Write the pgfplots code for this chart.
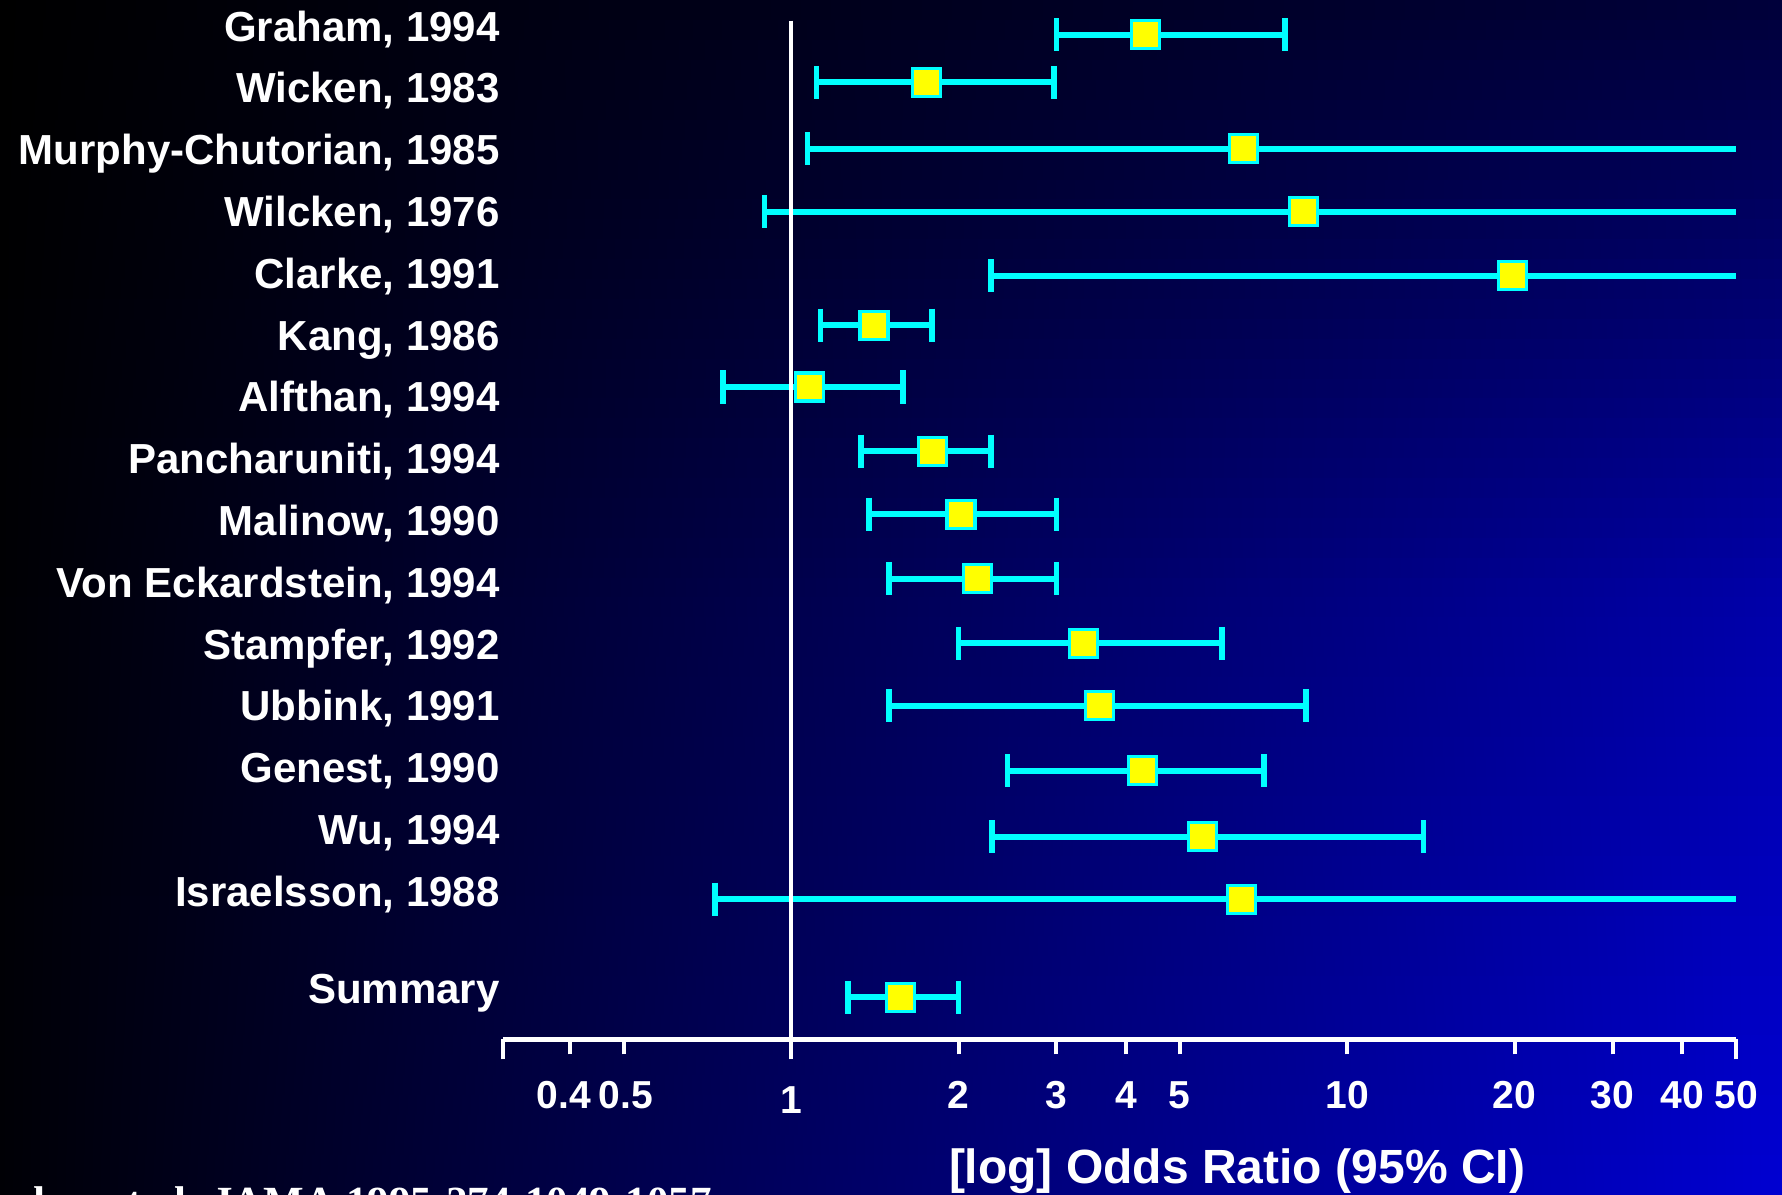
\documentclass[border=0pt]{standalone}
\usepackage{fontspec}
\setmainfont{Liberation Sans}
\newfontfamily\citefont{Liberation Serif}
\usepackage{pgfplots}
\pgfplotsset{compat=1.18}
\usepackage{pgfplotstable}
\definecolor{ciCyan}{RGB}{0,255,255}
\definecolor{ptYellow}{RGB}{255,255,0}

% y = row position (0 = first study, downwards negative); or = odds ratio; lo/hi = 95% CI
% cap = 1 when the upper limit lies inside the axis (closed end), 0 when it runs beyond 50
\pgfplotstableread{
id  y       or     lo     hi    cap
0   -0.14   4.34   3.00   7.73  1
1   -0.91   1.75   1.11   2.97  1
2   -1.98   6.50   1.07   50    0
3   -3.00   8.34   0.896  50    0
4   -4.04   19.8   2.29   50    0
5   -4.84   1.41   1.13   1.79  1
6   -5.84   1.08   0.754  1.59  1
7   -6.88   1.795  1.335  2.29  1
8   -7.90   2.02   1.38   3.00  1
9   -8.94   2.16   1.50   3.00  1
10  -9.99   3.35   2.00   5.95  1
11  -11.00  3.59   1.50   8.43  1
12  -12.05  4.28   2.45   7.09  1
13  -13.12  5.50   2.30   13.7  1
14  -14.13  6.45   0.730  50    0
15  -15.72  1.575  1.266  2.00  1
}\studies

\begin{document}
\begin{tikzpicture}
\useasboundingbox (0,0) rectangle (891pt,597pt);
% background: dark (top left) to bright blue (bottom right)
\foreach \i in {0,...,59}{
  \pgfmathsetmacro{\tt}{(\i+0.5)/60}
  \pgfmathtruncatemacro{\cL}{\tt<0.5 ? 6-4*\tt : 4-8*(\tt-0.5)}
  \pgfmathtruncatemacro{\cM}{\tt<0.5 ? 150-80*\tt : 110-144*(\tt-0.5)}
  \pgfmathtruncatemacro{\cR}{\tt<0.5 ? 210-80*\tt : 170-224*(\tt-0.5)}
  \definecolor{bgL}{RGB}{0,0,\cL}
  \definecolor{bgM}{RGB}{0,0,\cM}
  \definecolor{bgR}{RGB}{0,0,\cR}
  \shade[left color=bgL, middle color=bgM, right color=bgR]
    (0pt,{\i*9.95pt}) rectangle (891pt,{\i*9.95pt+10.3pt});
}
\begin{axis}[
  at={(251.5pt,77.35pt)}, anchor=south west,
  scale only axis, width=616.5pt, height=519.65pt,
  xmode=log, xmin=0.3034, xmax=50,
  ymin=-16.398, ymax=0.424,
  clip=false,
  axis x line*=bottom, axis y line*=left,
  x axis line style={white, line width=2.3pt, -},
  y axis line style={draw=none},
  xtick={0.4,0.5,2,3,4,5,10,20,30,40,50},
  xticklabels={0.4\kern6pt,\kern2pt 0.5,2,3,4,5,10,20,30,40,50},
  extra x ticks={0.3034,1,50},
  extra x tick labels={,1,},
  extra x tick style={major tick length=10pt},
  xminorticks=false,
  tick align=outside,
  major tick length=7.5pt,
  xtick style={white, line width=2pt},
  ytick style={draw=none},
  ytick={0,-1,-2,-3,-4,-5,-6,-7,-8,-9,-10,-11,-12,-13,-14,-15.58},
  yticklabels={{Graham, 1994},{Wicken, 1983},{Murphy-Chutorian, 1985},{Wilcken, 1976},{Clarke, 1991},{Kang, 1986},{Alfthan, 1994},{Pancharuniti, 1994},{Malinow, 1990},{Von Eckardstein, 1994},{Stampfer, 1992},{Ubbink, 1991},{Genest, 1990},{Wu, 1994},{Israelsson, 1988},{Summary}},
  /pgf/number format/assume math mode=true,
  xticklabel style={font=\fontsize{19.5}{23}\selectfont\bfseries, text=white, anchor=base, yshift=-27.3pt},
  yticklabel style={font=\fontsize{21}{25}\selectfont\bfseries, text=white, anchor=base east, inner sep=0pt, xshift=6pt, yshift=-7.5pt},
]
% confidence interval lines
\pgfplotsinvokeforeach{0,...,15}{
  \pgfplotstablegetelem{#1}{lo}\of\studies \edef\myLo{\pgfplotsretval}
  \pgfplotstablegetelem{#1}{hi}\of\studies \edef\myHi{\pgfplotsretval}
  \pgfplotstablegetelem{#1}{y}\of\studies \edef\myY{\pgfplotsretval}
  \addplot[ciCyan, line width=3pt, forget plot] coordinates {(\myLo,\myY) (\myHi,\myY)};
}
% line of no effect
\addplot[white, line width=2pt, forget plot] coordinates {(1,0.089) (1,-16.398)};
% caps
\addplot[only marks, mark=|, mark size=8.3pt, mark options={draw=ciCyan, line width=2.8pt}, forget plot]
  table[x=lo, y=y] {\studies};
\addplot[only marks, mark=|, mark size=8.3pt, mark options={draw=ciCyan, line width=2.8pt}, forget plot,
  restrict expr to domain={\thisrow{cap}}{0.5:1.5}]
  table[x=hi, y=y] {\studies};
% point estimates
\addplot[only marks, mark=square*, mark size=7pt, mark options={fill=ptYellow, draw=ciCyan, line width=1.6pt}, forget plot]
  table[x=or, y=y] {\studies};
\end{axis}
\node[anchor=base, inner sep=0pt, text=white, font=\fontsize{24}{28}\selectfont\bfseries] at (618.5pt,5.35pt) {[log] Odds Ratio (95\% CI)};
\node[anchor=base west, inner sep=0pt, text=white, font=\citefont\bfseries\fontsize{21.5}{25}\selectfont] at (-29pt,-11pt) {Boushey et al. JAMA 1995;274:1049-1057};
\end{tikzpicture}
\end{document}
